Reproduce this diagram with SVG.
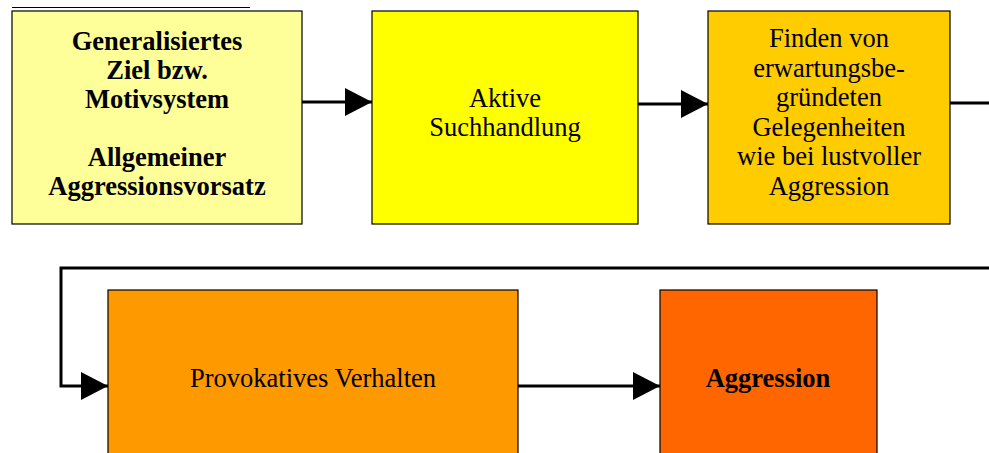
<svg xmlns="http://www.w3.org/2000/svg" width="989" height="453" viewBox="0 0 989 453">
  <style>
    .box { stroke: #000; stroke-width: 1.2; }
    .lbl { font-family: "Liberation Serif", "Times New Roman", "DejaVu Serif", serif; font-size: 26.5px; fill: #000; text-anchor: middle; }
    .b { font-weight: bold; }
    .wire { fill: none; stroke: #000; stroke-width: 3; }
  </style>
  <defs>
    <marker id="arrow" markerUnits="userSpaceOnUse" markerWidth="28" markerHeight="28" viewBox="0 0 28 28" refX="27" refY="14" orient="auto">
      <path d="M0,0 L27,14 L0,28 Z" fill="#000"/>
    </marker>
  </defs>

  <rect width="989" height="453" fill="#fff"/>

  <!-- source reference underline (text runs above the page edge) -->
  <line x1="12" y1="7.5" x2="250" y2="7.5" stroke="#000" stroke-width="1"/>

  <g id="connectors">
    <line class="wire" x1="302" y1="102" x2="372" y2="102" marker-end="url(#arrow)"/>
    <line class="wire" x1="638" y1="104" x2="708" y2="104" marker-end="url(#arrow)"/>
    <line class="wire" x1="950" y1="103" x2="990" y2="103"/>
    <polyline class="wire" points="990,268 61,268 61,386 108,386" marker-end="url(#arrow)"/>
    <line class="wire" x1="518" y1="386" x2="660" y2="386" marker-end="url(#arrow)"/>
  </g>

  <g id="ziel">
    <rect class="box" x="12" y="11" width="290" height="213" fill="#FFFF99"/>
    <text class="lbl b" x="157" y="50">Generalisiertes</text>
    <text class="lbl b" x="157" y="79">Ziel bzw.</text>
    <text class="lbl b" x="157" y="108">Motivsystem</text>
    <text class="lbl b" x="157" y="166">Allgemeiner</text>
    <text class="lbl b" x="157" y="195">Aggressionsvorsatz</text>
  </g>

  <g id="suche">
    <rect class="box" x="372" y="11" width="266" height="213" fill="#FFFF00"/>
    <text class="lbl" x="505" y="107">Aktive</text>
    <text class="lbl" x="505" y="136">Suchhandlung</text>
  </g>

  <g id="gelegenheiten">
    <rect class="box" x="708" y="11" width="242" height="213" fill="#FFCC00"/>
    <text class="lbl" x="829" y="47">Finden von</text>
    <text class="lbl" x="829" y="77">erwartungsbe-</text>
    <text class="lbl" x="829" y="106">gründeten</text>
    <text class="lbl" x="829" y="136">Gelegenheiten</text>
    <text class="lbl" x="829" y="165">wie bei lustvoller</text>
    <text class="lbl" x="829" y="195">Aggression</text>
  </g>

  <g id="provokation">
    <rect class="box" x="108" y="290" width="410" height="170" fill="#FF9900"/>
    <text class="lbl" x="313" y="387">Provokatives Verhalten</text>
  </g>

  <g id="aggression">
    <rect class="box" x="660" y="290" width="217" height="170" fill="#FF6600"/>
    <text class="lbl b" x="768" y="387">Aggression</text>
  </g>
</svg>
